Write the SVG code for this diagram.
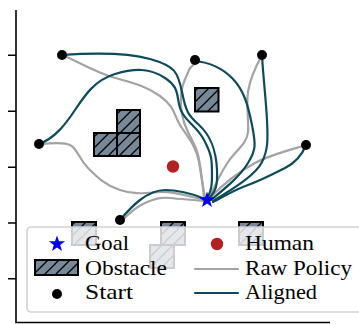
<svg xmlns="http://www.w3.org/2000/svg" width="359" height="324" viewBox="0 0 359 324">
<style>
.raw{fill:none;stroke:#a3a3a3;stroke-width:2.2;stroke-linecap:round;stroke-linejoin:round}
.al{fill:none;stroke:#0e4b5a;stroke-width:2.2;stroke-linecap:round;stroke-linejoin:round}
.obs{fill:url(#hatch);stroke:#000;stroke-width:2}
.start{fill:#000}
.lbl{font-family:"Liberation Serif","Times New Roman",serif;font-size:21px;fill:#000}
.ax{stroke:#000;stroke-width:1.6;fill:none}
</style>
<defs>
<pattern id="hatch" patternUnits="userSpaceOnUse" width="11" height="11">
<rect width="11" height="11" fill="#778899"/>
<path d="M0,11 L11,0 M-2,2 L2,-2 M9,13 L13,9" stroke="#000" stroke-width="1.3"/>
</pattern>
<path id="star" d="M0,-8.5 L2,-2.75 L8.08,-2.63 L3.23,1.05 L5,6.88 L0,3.4 L-5,6.88 L-3.23,1.05 L-8.08,-2.63 L-2,-2.75 Z" fill="#0000ee"/>
</defs>
<g id="axes">
<path class="ax" d="M16,10 V322.5 H330"/>
<path class="ax" d="M8,55.3 H16 M8,111.3 H16 M8,167.2 H16 M8,223 H16 M8,278.8 H16"/>
</g>
<g id="obstacles">
<g id="obstacle-L">
<rect class="obs" x="117" y="110" width="23" height="23"/>
<rect class="obs" x="94" y="133" width="23" height="23"/>
<rect class="obs" x="117" y="133" width="23" height="23"/>
</g>
<rect id="obstacle-top" class="obs" x="195" y="88" width="23.5" height="23.5"/>
<rect id="obstacle-b1" class="obs" x="72" y="222" width="24" height="23"/>
<rect id="obstacle-b2" class="obs" x="161" y="222" width="24" height="23"/>
<rect id="obstacle-b3" class="obs" x="150" y="245" width="24" height="23"/>
<rect id="obstacle-b4" class="obs" x="239" y="222" width="24" height="23"/>
</g>
<g id="human"><circle cx="173" cy="166.5" r="6.2" fill="#b22222"/></g>
<g id="connectors">
<path class="raw" d="M62,55 C75,60 95,72 112,77 S145,85 160,96 S174,115 180,125 S196,145 199,162 S203,185 204,198"/>
<path class="raw" d="M195,61 C195,66 190,66 189,70 S182,82 181,95 S182,120 188,132 S198,150 200,165 S203,188 205,198"/>
<path class="raw" d="M39,144 C50,144 62,141 70,145 S78,158 88,168 S105,185 120,190 S145,193 160,192 S190,197 205,200"/>
<path class="raw" d="M121,222 C128,214 136,207 145,203 S160,197 170,198 S195,200 205,201"/>
<path class="raw" d="M262,55 C256,66 250,78 248,92 S249,120 248,132 S236,150 228,162 S215,185 209,199"/>
<path class="raw" d="M306,145 C290,150 270,155 255,163 S225,182 209,199"/>
<path class="al" d="M62,55 C90,53 125,52 150,59 S178,72 182,92 S188,115 199,125 S216,148 217,170 S213,192 209,199"/>
<path class="al" d="M39,144 C55,138 65,125 75,110 S95,80 115,74 S150,68 165,78 S176,95 180,108 S196,125 204,140 S212,160 212,175 S210,192 207,199"/>
<path class="al" d="M120,220 C126,213 132,206 140,200 S155,190 165,190 S192,193 205,199"/>
<path class="al" d="M195,61 C205,62 220,66 232,78 S248,105 252,125 S256,150 248,163 S228,186 211,200"/>
<path class="al" d="M262,55 C263,75 266,100 267,120 S268,150 262,162 S238,186 213,201"/>
<path class="al" d="M306,145 C302,155 295,163 285,168 S262,180 248,185 S225,196 213,202"/>
</g>
<g id="starts">
<circle id="start1" class="start" cx="62" cy="55" r="5"/>
<circle id="start2" class="start" cx="39" cy="144" r="5"/>
<circle id="start3" class="start" cx="195" cy="60" r="5"/>
<circle id="start4" class="start" cx="262" cy="55" r="5"/>
<circle id="start5" class="start" cx="306" cy="145" r="5"/>
<circle id="start6" class="start" cx="120" cy="220" r="5"/>
</g>
<g id="goal"><use href="#star" x="207" y="200"/></g>
<g id="legend">
<rect x="27" y="227" width="345" height="85" rx="4" fill="#fff" fill-opacity="0.8" stroke="#d2d2d2" stroke-width="1.6"/>
<use href="#star" x="57" y="244"/>
<text class="lbl" x="85" y="250" textLength="44" lengthAdjust="spacingAndGlyphs">Goal</text>
<rect class="obs" x="35" y="260" width="43" height="15"/>
<text class="lbl" x="85" y="275" textLength="82" lengthAdjust="spacingAndGlyphs">Obstacle</text>
<circle class="start" cx="57" cy="294" r="5"/>
<text class="lbl" x="85" y="299" textLength="48" lengthAdjust="spacingAndGlyphs">Start</text>
<circle cx="217" cy="244" r="6.2" fill="#b22222"/>
<text class="lbl" x="245" y="250" textLength="69" lengthAdjust="spacingAndGlyphs">Human</text>
<path class="raw" d="M195,269 H238" stroke-linecap="butt"/>
<text class="lbl" x="245" y="275" textLength="107" lengthAdjust="spacingAndGlyphs">Raw Policy</text>
<path class="al" d="M195,293 H238" stroke-linecap="butt"/>
<text class="lbl" x="245" y="299" textLength="72" lengthAdjust="spacingAndGlyphs">Aligned</text>
</g>
</svg>
